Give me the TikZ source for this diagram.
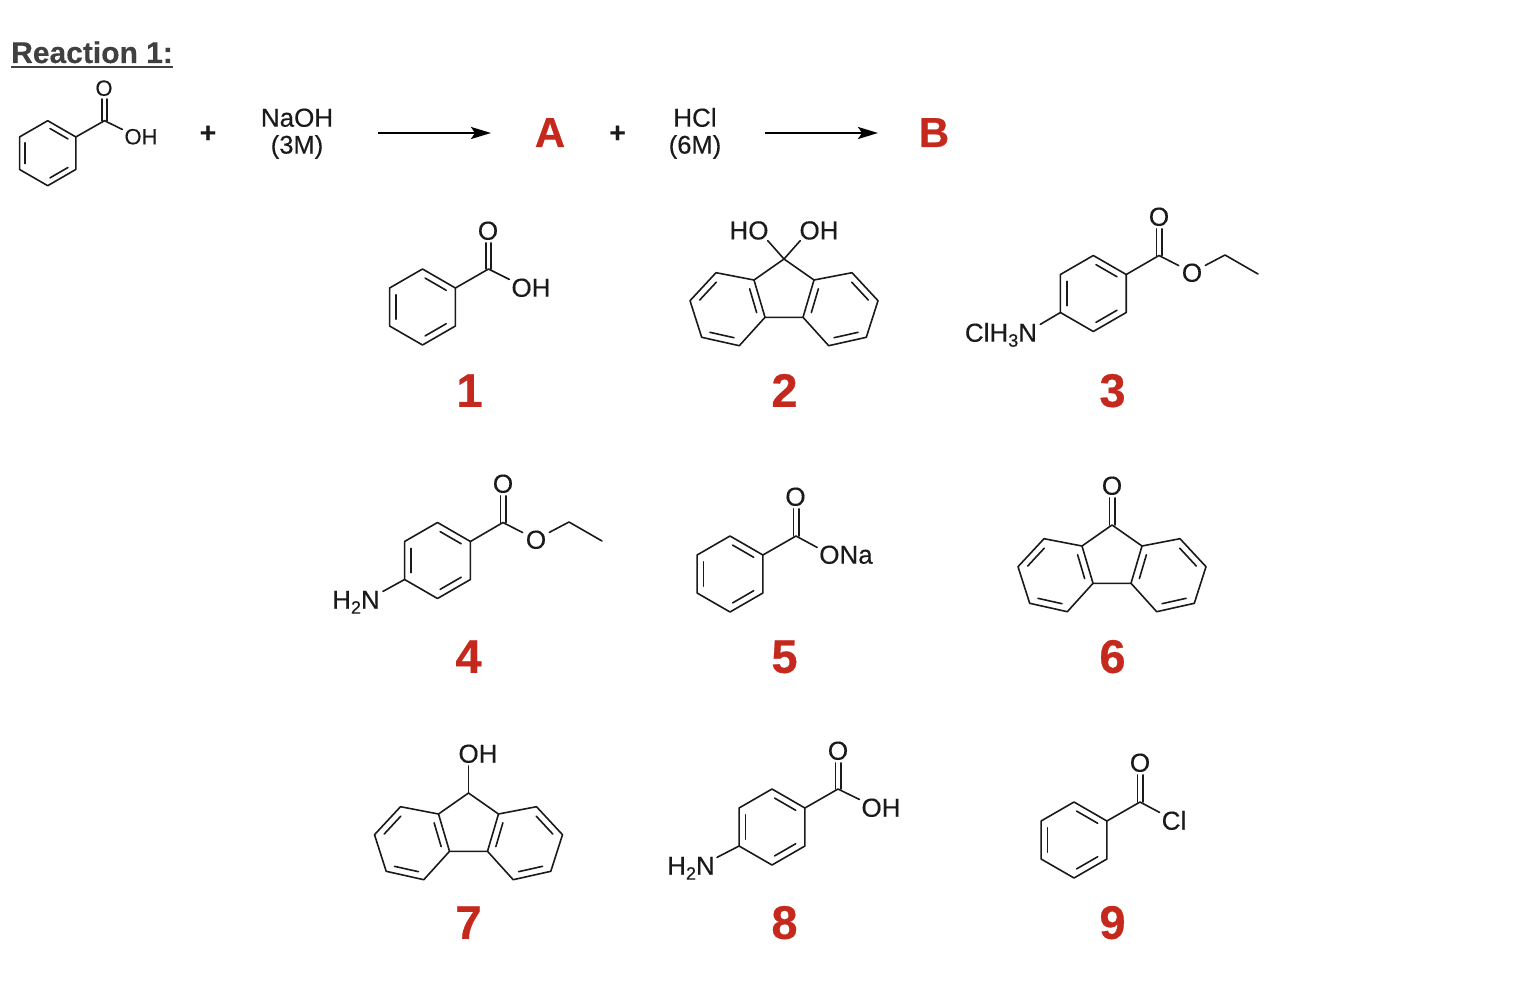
\documentclass[tikz,border=0pt]{standalone}
\usepackage{fontspec}
\setmainfont{Liberation Sans}
\newfontfamily\chemfont[FakeBold=0.35]{Liberation Sans}
\newfontfamily\tagfont[BoldFont={Liberation Sans Bold},BoldFeatures={FakeBold=0.5}]{Liberation Sans}
\newfontfamily\headfont[BoldFont={Liberation Sans Bold},BoldFeatures={FakeBold=0.3}]{Liberation Sans}
\usetikzlibrary{calc,arrows.meta}
\definecolor{inkc}{HTML}{1A1A1A}
\definecolor{redc}{HTML}{C5281C}
\definecolor{headc}{HTML}{404040}
\tikzset{
  bond/.style={line width=1.6pt,draw=inkc,line join=round,line cap=round},
  atom/.style={font=\chemfont\fontsize{26}{26}\selectfont,text=inkc,inner sep=0pt,text height=18.6pt,text depth=0pt,yshift=0.6pt},
  smallatom/.style={font=\chemfont\fontsize{22}{22}\selectfont,text=inkc,inner sep=0pt,text height=15.8pt,text depth=0pt,yshift=0.6pt},
  gap/.style={inner sep=3pt},
  cond/.style={font=\chemfont\fontsize{25.5}{26}\selectfont,text=inkc,inner sep=0pt,text height=18.3pt,text depth=0pt,yshift=0.6pt},
  numtag/.style={font=\tagfont\fontsize{47}{47}\bfseries\selectfont,text=redc,inner sep=0pt,text height=33.6pt,text depth=0pt,yshift=1pt},
  lettertag/.style={font=\tagfont\fontsize{42}{42}\bfseries\selectfont,text=redc,inner sep=0pt,text height=30pt,text depth=0pt,yshift=1pt},
  plussign/.style={font=\tagfont\fontsize{28}{28}\bfseries\selectfont,text=inkc,inner sep=0pt,yshift=1pt},
  rxnarrow/.style={line width=2.2pt,draw=black,-{Stealth[length=20pt,width=12pt,inset=4pt]}},
}
\newcommand\subnum[1]{\raisebox{-5pt}{\fontsize{18}{18}\selectfont #1}}
% inner line of a double bond: #1,#2 bond ends, #3 ring centre
\newcommand\dbl[3]{%
  \coordinate (tmpP) at ($(#3)!.8!(#1)$);
  \coordinate (tmpQ) at ($(#3)!.8!(#2)$);
  \draw[bond] ($(tmpP)!.1!(tmpQ)$) -- ($(tmpQ)!.1!(tmpP)$);
}
% benzene ring: #1 name, #2 #3 centre, #4 radius
\newcommand\ring[4]{%
  \begin{scope}[shift={(#2,#3)},scale=#4]
    \coordinate (#1Z) at (0,0);
    \coordinate (#1T) at (-90:1);
    \coordinate (#1UR) at (-30:1);
    \coordinate (#1LR) at (30:1);
    \coordinate (#1B) at (90:1);
    \coordinate (#1LL) at (150:1);
    \coordinate (#1UL) at (210:1);
  \end{scope}
  \draw[bond] (#1T) -- (#1UR) -- (#1LR) -- (#1B) -- (#1LL) -- (#1UL) -- cycle;
  \dbl{#1T}{#1UR}{#1Z}
  \dbl{#1LR}{#1B}{#1Z}
  \dbl{#1LL}{#1UL}{#1Z}
}
% C=O : #1 carbon, #2 oxygen node
\newcommand\carbonyl[2]{%
  \draw[bond] ($(#1)+(-2.7,0)$) -- ($(#1 |- #2.south)+(-2.7,3)$);
  \draw[bond] ($(#1)+(2.7,0)$) -- ($(#1 |- #2.south)+(2.7,3)$);
}
% fluorene skeleton: #1 name, #2 #3 position of C9
\newcommand\fluorene[3]{%
  \begin{scope}[shift={(#2,#3)}]
    \coordinate (#1C) at (0,0);
    \coordinate (#1La) at (-30,21);
    \coordinate (#1Lb) at (-68,13.7);
    \coordinate (#1Lc) at (-94,41.7);
    \coordinate (#1Ld) at (-82.3,78.3);
    \coordinate (#1Le) at (-44.7,86.7);
    \coordinate (#1Lf) at (-19,58.3);
    \coordinate (#1Lz) at (-56.3,50);
    \coordinate (#1Ra) at (30,21);
    \coordinate (#1Rb) at (68,13.7);
    \coordinate (#1Rc) at (94,41.7);
    \coordinate (#1Rd) at (82.3,78.3);
    \coordinate (#1Re) at (44.7,86.7);
    \coordinate (#1Rf) at (19,58.3);
    \coordinate (#1Rz) at (56.3,50);
  \end{scope}
  \draw[bond] (#1C) -- (#1La) -- (#1Lb) -- (#1Lc) -- (#1Ld) -- (#1Le) -- (#1Lf) -- (#1Rf) -- (#1Re) -- (#1Rd) -- (#1Rc) -- (#1Rb) -- (#1Ra) -- cycle;
  \draw[bond] (#1La) -- (#1Lf);
  \draw[bond] (#1Ra) -- (#1Rf);
  \dbl{#1Lb}{#1Lc}{#1Lz}
  \dbl{#1Ld}{#1Le}{#1Lz}
  \dbl{#1La}{#1Lf}{#1Lz}
  \dbl{#1Rb}{#1Rc}{#1Rz}
  \dbl{#1Rd}{#1Re}{#1Rz}
  \dbl{#1Ra}{#1Rf}{#1Rz}
}
\begin{document}
\begin{tikzpicture}[x=1pt,y=-1pt]
\useasboundingbox (0,0) rectangle (1521,1006);
\fill[white] (0,0) rectangle (1521,1006);

% heading
\node[anchor=base west,inner sep=0pt,text=headc,font=\headfont\fontsize{30}{30}\bfseries\selectfont] (head) at (11,63) {Reaction 1:};
\draw[line width=2.4pt,draw=headc] ($(head.base west)+(0,4)$) -- ($(head.base east)+(0,4)$);

% reaction line
\ring{s}{47.7}{153.2}{32.5}
\coordinate (sC) at (104.5,120.7);
\node[smallatom] (sO) at (104,88.5) {O};
\node[smallatom] (sOH) at (141,137) {OH};
\draw[bond] (sUR) -- (sC) -- ($(sOH.west)+(-2,-7)$);
\carbonyl{sC}{sO}
\node[plussign] (p1) at (208,135) {+};
\node[atom] (naoh) at (297,118) {NaOH};
\node[cond] (c3m) at (297,145) {(3M)};
\coordinate (a1s) at (378,133);
\coordinate (a1e) at (491,133);
\draw[rxnarrow] (a1s) -- (a1e);
\node[lettertag] (tA) at (550,133) {A};
\node[plussign] (p2) at (617.5,135) {+};
\node[atom] (hcl) at (695,118) {HCl};
\node[cond] (c6m) at (695,145) {(6M)};
\coordinate (a2s) at (765,133);
\coordinate (a2e) at (878,133);
\draw[rxnarrow] (a2s) -- (a2e);
\node[lettertag] (tB) at (934,133) {B};

% 1
\ring{a}{422.5}{307}{38}
\coordinate (aC) at (488.5,269);
\node[atom] (aO) at (488,231) {O};
\node[atom] (aOH) at (531,288) {OH};
\draw[bond] (aUR) -- (aC) -- ($(aOH.west)+(-2,-8)$);
\carbonyl{aC}{aO}
\node[numtag] (n1) at (469.5,391) {1};

% 2
\fluorene{b}{784}{259}
\node[atom] (bHO) at (749,230.7) {HO};
\node[atom] (bOH) at (819,230.7) {OH};
\draw[bond] (bC) -- ($(bHO.south east)+(-1,1)$);
\draw[bond] (bC) -- ($(bOH.south west)+(1,1)$);
\node[numtag] (n2) at (784.5,391) {2};

% 3
\ring{c}{1093.3}{293.5}{38}
\coordinate (cC) at (1159,255.5);
\node[atom] (cO) at (1159,217) {O};
\node[atom,gap] (cOe) at (1192,273) {O};
\coordinate (cCa) at (1225,255);
\coordinate (cCb) at (1258,274);
\node[atom] (cN) at (1001,333) {ClH\subnum{3}N};
\draw[bond] (cUR) -- (cC) -- (cOe) -- (cCa) -- (cCb);
\carbonyl{cC}{cO}
\draw[bond] (cLL) -- ($(cN.east)+(3,-8)$);
\node[numtag] (n3) at (1112.5,391) {3};

% 4
\ring{d}{437.5}{560.5}{38}
\coordinate (dC) at (503,522.5);
\node[atom] (dO) at (503,484) {O};
\node[atom,gap] (dOe) at (536,540) {O};
\coordinate (dCa) at (569,522);
\coordinate (dCb) at (602,541);
\node[atom] (dN) at (356,600) {H\subnum{2}N};
\draw[bond] (dUR) -- (dC) -- (dOe) -- (dCa) -- (dCb);
\carbonyl{dC}{dO}
\draw[bond] (dLL) -- ($(dN.east)+(3,-8)$);
\node[numtag] (n4) at (468.5,657) {4};

% 5
\ring{e}{730}{574}{38}
\coordinate (eC) at (796,536);
\node[atom] (eO) at (795.5,497) {O};
\node[atom] (eONa) at (846,555) {ONa};
\draw[bond] (eUR) -- (eC) -- ($(eONa.west)+(-2,-7)$);
\carbonyl{eC}{eO}
\node[numtag] (n5) at (784.5,657) {5};

% 6
\fluorene{f}{1112}{525}
\node[atom] (fO) at (1112,486) {O};
\carbonyl{fC}{fO}
\node[numtag] (n6) at (1112.5,657) {6};

% 7
\fluorene{g}{468.5}{793}
\node[atom] (gOH) at (478,754) {OH};
\draw[bond] (gC) -- ($(gC |- gOH.south)+(0,3)$);
\node[numtag] (n7) at (468.5,923) {7};

% 8
\ring{h}{772}{827}{38}
\coordinate (hC) at (838,789);
\node[atom] (hO) at (838,751) {O};
\node[atom] (hOH) at (881,808) {OH};
\node[atom] (hN) at (691,866) {H\subnum{2}N};
\draw[bond] (hUR) -- (hC) -- ($(hOH.west)+(-2,-8)$);
\carbonyl{hC}{hO}
\draw[bond] (hLL) -- ($(hN.east)+(2,-8)$);
\node[numtag] (n8) at (784.5,923) {8};

% 9
\ring{i}{1074}{840}{38}
\coordinate (iC) at (1140,802);
\node[atom] (iO) at (1140,763) {O};
\node[atom] (iCl) at (1174,821) {Cl};
\draw[bond] (iUR) -- (iC) -- ($(iCl.west)+(-2,-8)$);
\carbonyl{iC}{iO}
\node[numtag] (n9) at (1112.5,923) {9};
\end{tikzpicture}
\end{document}
